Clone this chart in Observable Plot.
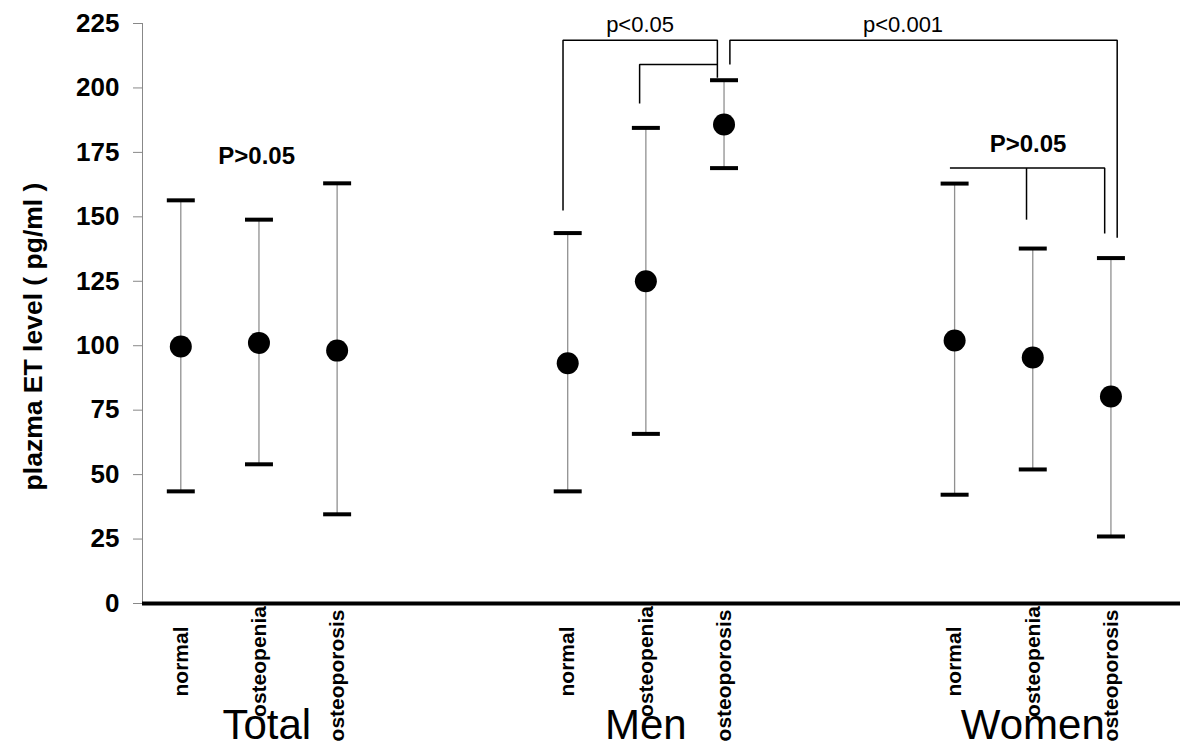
<!DOCTYPE html>
<html>
<head>
<meta charset="utf-8">
<script src="https://cdn.jsdelivr.net/npm/d3@7"></script>
<script src="https://cdn.jsdelivr.net/npm/@observablehq/plot@0.6"></script>
<style>
  html, body { margin: 0; padding: 0; background: white; }
  #chart { width: 1200px; height: 748px; overflow: hidden; }
</style>
</head>
<body>
<div id="chart"></div>
<script>
// ---- data ----
const groups = ["Total", "Men", "Women"];
const categories = ["normal", "osteopenia", "osteoporosis"];
// mean values per group (rows) and category (columns)
const means = [
  [99.7, 101.1, 98.1],
  [93.2, 125.0, 185.8],
  [102.0, 95.4, 80.3]
];
const upper = [
  [156.4, 148.9, 163.0],
  [143.7, 184.5, 203.0],
  [162.9, 137.7, 134.0]
];
const lower = [
  [43.5, 54.0, 34.6],
  [43.5, 65.8, 168.9],
  [42.2, 52.0, 26.0]
];
const yTicks = [0, 25, 50, 75, 100, 125, 150, 175, 200, 225];
const yLabel = "plazma ET level ( pg/ml )";

// significance annotations
const sigLabels = ["p<0.05", "p<0.001", "P>0.05", "P>0.05"];
const bracketTop = 218.5;     // outer bracket level
const bracketInner = 209.1;   // inner bracket level
const womenBracket = 168.9;   // women bracket level

// ---- layout helpers ----
const groupStep = 4.95;
const pos = (g, i) => g * groupStep + i;
const rows = [];
groups.forEach((g, gi) => categories.forEach((c, ci) => rows.push({
  group: g, cat: c, u: pos(gi, ci),
  mean: means[gi][ci], hi: upper[gi][ci], lo: lower[gi][ci]
})));

const capHalf = 0.179;
const MN = pos(1, 0), MP = pos(1, 1), MO = pos(1, 2);
const WN = pos(2, 0), WP = pos(2, 1), WO = pos(2, 2);

const brackets = [
  [[MN - 0.06, 152.5], [MN - 0.06, bracketTop], [MO - 0.085, bracketTop], [MO - 0.085, 204]],
  [[MP - 0.08, 194], [MP - 0.08, bracketInner], [MO - 0.085, bracketInner]],
  [[MO + 0.075, bracketInner], [MO + 0.075, bracketTop], [WO + 0.08, bracketTop], [WO + 0.08, 141.9]],
  [[WN - 0.06, womenBracket], [WO - 0.08, womenBracket], [WO - 0.08, 143.5]],
  [[WP - 0.08, womenBracket], [WP - 0.08, 148.9]]
].flatMap((pts, k) => pts.map(([x, y]) => ({k, x, y})));

const sig = [
  {t: sigLabels[0], x: MP - 0.074, y: 224.5, bold: false},
  {t: sigLabels[1], x: 9.24, y: 224.5, bold: false},
  {t: sigLabels[2], x: WP - 0.06, y: 178.3, bold: true},
  {t: sigLabels[3], x: pos(0, 1) - 0.03, y: 173.3, bold: true}
];

const labelDy = {normal: 58, osteopenia: 58, osteoporosis: 72};

const font = "'Liberation Sans', Arial, Helvetica, sans-serif";

const plot = Plot.plot({
  width: 1200,
  height: 748,
  marginLeft: 142,
  marginRight: 20,
  marginTop: 23,
  marginBottom: 145,
  style: {fontFamily: font, background: "white", color: "black", overflow: "visible"},
  x: {domain: [-0.49, 12.79], axis: null},
  y: {domain: [0, 225]},
  marks: [
    // y axis line
    Plot.ruleX([-0.49], {y1: 0, y2: 225, stroke: "#888", strokeWidth: 1}),
    Plot.axisY({ticks: yTicks, tickSize: 9, tickPadding: 14, fontSize: 26, fontWeight: "bold",
      stroke: "#888", label: null}),
    // x axis line
    Plot.ruleY([0], {stroke: "black", strokeWidth: 4}),
    // stems
    Plot.link(rows, {x1: "u", x2: "u", y1: "lo", y2: "hi", stroke: "#909090", strokeWidth: 1.3}),
    // caps
    Plot.link(rows, {x1: d => d.u - capHalf, x2: d => d.u + capHalf, y1: "hi", y2: "hi",
      stroke: "black", strokeWidth: 4, strokeLinecap: "butt"}),
    Plot.link(rows, {x1: d => d.u - capHalf, x2: d => d.u + capHalf, y1: "lo", y2: "lo",
      stroke: "black", strokeWidth: 4, strokeLinecap: "butt"}),
    // means
    Plot.dot(rows, {x: "u", y: "mean", r: 11, fill: "black", stroke: null}),
    // brackets
    Plot.line(brackets, {x: "x", y: "y", z: "k", stroke: "black", strokeWidth: 1.5,
      strokeLinejoin: "miter", strokeLinecap: "butt", curve: "linear"}),
    // significance labels
    Plot.text(sig.filter(d => !d.bold), {x: "x", y: "y", text: "t", fontSize: 22, lineAnchor: "middle", fill: "black"}),
    Plot.text(sig.filter(d => d.bold), {x: "x", y: "y", text: "t", fontSize: 24, fontWeight: "bold", lineAnchor: "middle", fill: "black"}),
    // group labels
    Plot.text(groups, {x: (d, i) => pos(i, 1) + (i === 0 ? 0.1 : 0), text: d => d, frameAnchor: "bottom",
      dy: 135, fontSize: 42, lineAnchor: "bottom", fill: "black"}),
    // category labels (rotated)
    ...categories.map(c => Plot.text(rows.filter(r => r.cat === c), {
      x: "u", text: "cat", frameAnchor: "bottom", rotate: -90, dy: labelDy[c],
      fontSize: 21, fontWeight: "bold", textAnchor: "middle", lineAnchor: "middle", fill: "black"
    })),
    // y label
    Plot.text([yLabel], {frameAnchor: "left", rotate: -90, dx: -109, dy: 23, fontSize: 26.5,
      fontWeight: "bold", textAnchor: "middle", lineAnchor: "middle", fill: "black"})
  ]
});
document.getElementById("chart").appendChild(plot);
</script>
</body>
</html>
